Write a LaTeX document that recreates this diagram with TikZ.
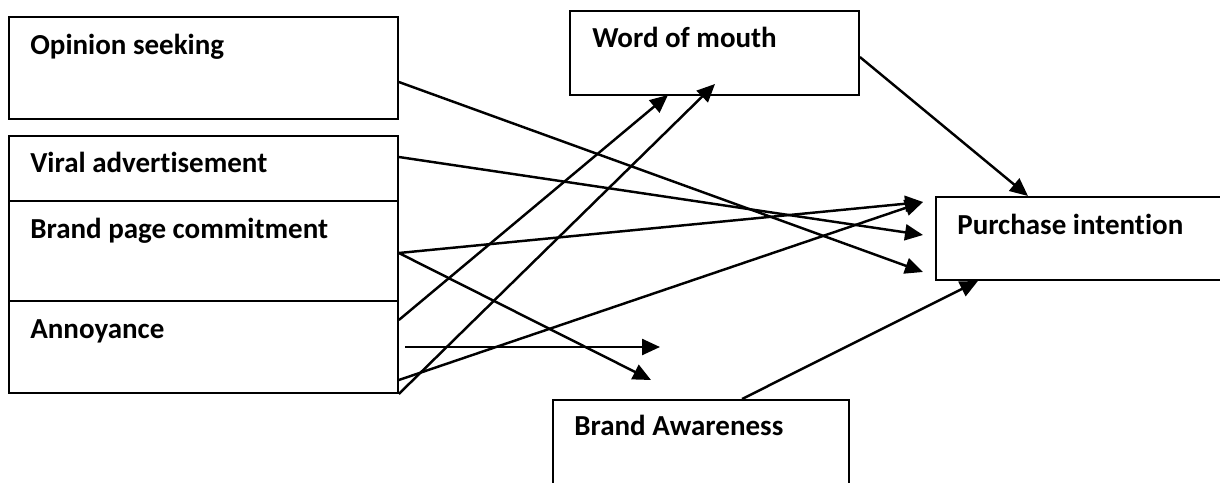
\documentclass[tikz,border=0pt]{standalone}
\usepackage{fontspec}
\setmainfont[Ligatures=NoCommon]{Carlito}
\usetikzlibrary{arrows.meta}
\tikzset{
  box/.style={draw, line width=1.1pt, rectangle, anchor=north west, inner sep=0pt},
  lbl/.style={anchor=base west, inner sep=0pt, font=\bfseries\fontsize{16.5}{20}\selectfont},
  arr/.style={-{Triangle[length=0.36cm,width=0.32cm]}, line width=1.4pt},
}
\begin{document}
\begin{tikzpicture}[x=0.02cm,y=-0.02cm]
  \useasboundingbox (0,0) rectangle (1220,483);
  \clip (0,0) rectangle (1220,483);
  % boxes
  \node[box, minimum width=7.78cm, minimum height=2.04cm] (ops) at (8,16) {};
  \node[box, minimum width=7.78cm, minimum height=1.3cm] (via) at (8,135) {};
  \node[box, minimum width=7.78cm, minimum height=2cm] (bpc) at (8,200) {};
  \node[box, minimum width=7.78cm, minimum height=1.84cm] (ann) at (8,300) {};
  \node[box, minimum width=5.78cm, minimum height=1.68cm] (wom) at (569,10) {};
  \node[box, minimum width=7cm, minimum height=1.66cm] (pi) at (935,196) {};
  \node[box, minimum width=5.92cm, minimum height=2.5cm] (ba) at (552,399) {};
  % labels
  \node[lbl] (ops-t) at (30,55) {Opinion seeking};
  \node[lbl] (via-t) at (30,173) {Viral advertisement};
  \node[lbl] (bpc-t) at (30,238) {Brand page commitment};
  \node[lbl] (ann-t) at (30,338) {Annoyance};
  \node[lbl] (wom-t) at (592,48) {Word of mouth};
  \node[lbl] (pi-t) at (957,234) {Purchase intention};
  \node[lbl] (ba-t) at (574,435) {Brand Awareness};
  % free arrow ends
  \coordinate (pi-a) at (923,202);
  \coordinate (pi-b) at (923,235);
  \coordinate (pi-c) at (923,272);
  \coordinate (wom-a) at (668,95);
  \coordinate (wom-b) at (715,84);
  \coordinate (ba-a) at (651,380);
  \coordinate (ann-x) at (405,347);
  \coordinate (ann-y) at (660,347);
  % arrows
  \draw[arr] (ops.east |- 0,82) -- (pi-c);
  \draw[arr] (via.east |- 0,157) -- (pi-b);
  \draw[arr] (bpc.east |- 0,253) -- (pi-a);
  \draw[arr] (bpc.east |- 0,253) -- (ba-a);
  \draw[arr] (ann.east |- 0,320) -- (wom-a);
  \draw[arr] (ann.east |- 0,380) -- (pi-a);
  \draw[arr] (ann.south east) -- (wom-b);
  \draw[arr] (ann-x) -- (ann-y);
  \draw[arr] (wom.east |- 0,57) -- (pi.north -| 1028,0);
  \draw[arr] (ba.north -| 742,0) -- (pi.south -| 978,0);
\end{tikzpicture}
\end{document}
